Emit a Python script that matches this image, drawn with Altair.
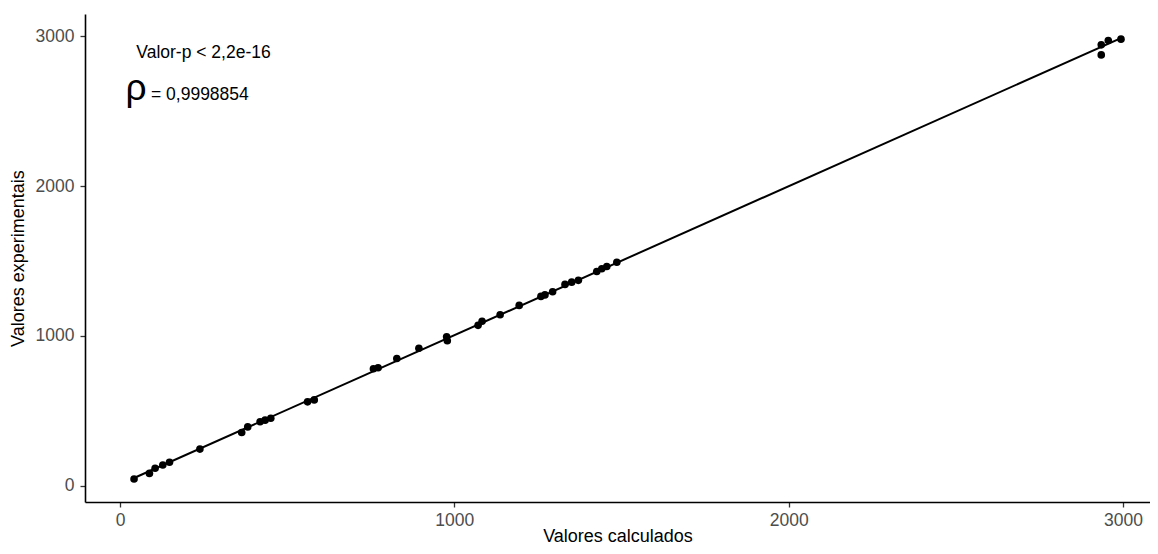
import altair as alt
import pandas as pd

# Values
valores_calculados = [42, 88, 105, 128, 148, 239, 364, 382, 419, 434, 451, 561, 581,
                      758, 772, 828, 894, 977, 979, 1071, 1083, 1137, 1194, 1259, 1271,
                      1294, 1331, 1351, 1371, 1426, 1441, 1456, 1486,
                      2935, 2935, 2956, 2994]
valores_experimentais = [47, 84, 118, 140, 158, 246, 357, 394, 428, 439, 452, 561, 574,
                         782, 788, 850, 918, 995, 968, 1071, 1098, 1142, 1204, 1264, 1274,
                         1295, 1344, 1359, 1371, 1430, 1448, 1463, 1492,
                         2941, 2874, 2970, 2979]
x_ticks = [0, 1000, 2000, 3000]
y_ticks = [0, 1000, 2000, 3000]
texto_p = "Valor-p < 2,2e-16"
texto_rho_simbolo = "ρ"
texto_rho_valor = "= 0,9998854"

df = pd.DataFrame({"calc": valores_calculados, "exp": valores_experimentais})

FONT = "Liberation Sans, Arial, sans-serif"

xscale = alt.Scale(domain=[-104.7, 3080.8], nice=False, zero=False)
yscale = alt.Scale(domain=[-106.7, 3146.7], nice=False, zero=False)

xaxis = alt.Axis(values=x_ticks, format="d", title="Valores calculados", grid=False,
                 titleBaseline="alphabetic", titleY=39, labelPadding=4)
yaxis = alt.Axis(values=y_ticks, format="d", title="Valores experimentais", grid=False,
                 titleBaseline="alphabetic", titleX=-62, labelPadding=6)

base = alt.Chart(df)

line = base.transform_regression("calc", "exp", method="linear").mark_line(
    color="black", strokeWidth=2
).encode(
    x=alt.X("calc:Q", scale=xscale, axis=xaxis),
    y=alt.Y("exp:Q", scale=yscale, axis=yaxis),
)

points = base.mark_circle(color="black", opacity=1, size=58).encode(
    x=alt.X("calc:Q", scale=xscale),
    y=alt.Y("exp:Q", scale=yscale),
)

one = pd.DataFrame({"k": [0]})
txt_p = alt.Chart(one).mark_text(
    text=texto_p, font=FONT, fontSize=17.5, align="center", baseline="alphabetic", color="black"
).encode(x=alt.value(118.5), y=alt.value(44.3))
txt_rho = alt.Chart(one).mark_text(
    text=texto_rho_simbolo, font=FONT, fontSize=37, align="center", baseline="alphabetic", color="black"
).encode(x=alt.value(51), y=alt.value(86))
txt_val = alt.Chart(one).mark_text(
    text=texto_rho_valor, font=FONT, fontSize=17.5, align="left", baseline="alphabetic", color="black"
).encode(x=alt.value(66), y=alt.value(86))

chart = alt.layer(line, points, txt_p, txt_rho, txt_val).properties(
    width=1065, height=488,
    padding={"left": 77, "top": 6, "right": 0, "bottom": 44},
    autosize=alt.AutoSizeParams(type="none"),
).configure_view(stroke=None).configure_axis(
    labelFont=FONT, titleFont=FONT, labelFontSize=17.5, titleFontSize=18,
    labelColor="#4D4D4D", titleColor="black", titleFontWeight="normal",
    domainColor="black", domainWidth=1.6, tickColor="#333333", tickWidth=1.3, tickSize=5,
)

chart.save("out.html", embed_options={"renderer": "svg", "actions": False})
